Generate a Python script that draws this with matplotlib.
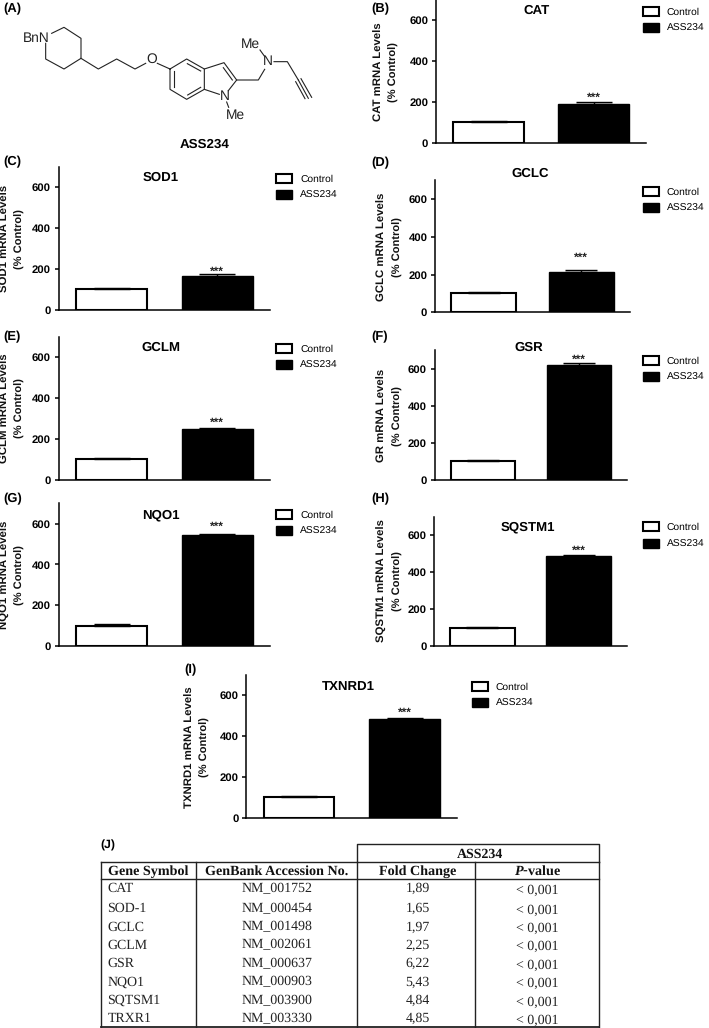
import matplotlib
matplotlib.use("Agg")
import matplotlib.pyplot as plt
from matplotlib.legend import Legend
from matplotlib.patches import Patch

plt.rcParams["font.family"] = ["Liberation Sans", "DejaVu Sans"]
plt.rcParams["text.hinting"] = "no_hinting"
plt.rcParams["mathtext.fontset"] = "custom"
plt.rcParams["mathtext.bfit"] = "Liberation Serif:italic:bold"

W, H = 709, 1028

# values
genes = ["CAT", "SOD1", "GCLC", "GCLM", "GSR", "NQO1", "SQSTM1", "TXNRD1"]
ylabels = ["CAT", "SOD1", "GCLC", "GCLM", "GR", "NQO1", "SQSTM1", "TXNRD1"]
panel_ids = ["(B)", "(C)", "(D)", "(E)", "(F)", "(G)", "(H)", "(I)"]
control_vals = [100, 100, 100, 100, 100, 100, 100, 100]
ass234_vals = [190, 165, 215, 250, 622, 545, 485, 485]
control_err = [6, 6, 6, 6, 6, 6, 5, 4]
ass234_err = [8, 8, 7, 5, 7, 6, 6, 6]
star_vals = [228, 197, 299, 290, 660, 592, 525, 525]
yticks = [0, 200, 400, 600]

# table (J)
table_header = ["Gene Symbol", "GenBank Accession No.", "Fold Change", "$\\mathbfit{P}$-value"]
table_genes = ["CAT", "SOD-1", "GCLC", "GCLM", "GSR", "NQO1", "SQTSM1", "TRXR1"]
table_acc = ["NM_001752", "NM_000454", "NM_001498", "NM_002061",
             "NM_000637", "NM_000903", "NM_003900", "NM_003330"]
table_fold = ["1,89", "1,65", "1,97", "2,25", "6,22", "5,43", "4,84", "4,85"]
table_p = ["< 0,001"] * 8

# layout of each panel in pixels: spine x, right end, y of 0, y of 600
frames = [(436, 646, 142.7, 20.0), (58.7, 270, 309.7, 187.3),
          (435, 630, 312.3, 199.3), (58.7, 270, 479.7, 357.3),
          (434.7, 626.7, 479.7, 368.7), (58.7, 270, 646, 523.7),
          (434.3, 626.7, 646, 535), (246.3, 457.3, 817.7, 695.3)]
label_pos = [(379, 394, 71.7), (5, 20, 238.8), (382, 397.7, 246.7), (5, 20, 408),
             (382, 397.7, 415.8), (5, 20, 574.7), (382, 397.7, 581), (190, 205.3, 746.7)]
title_pos = [(537, 11), (161, 178), (530, 174), (161, 348),
             (529, 348), (161, 515), (528, 527), (348, 687)]
legend_pos = [(642.7, 6.7), (276, 174), (642.7, 186.7), (276, 344),
              (642.7, 356), (276, 510), (642.7, 522.3), (471.7, 682)]
id_pos = [(371, 9), (3, 162), (371, 163), (3, 337), (371, 337), (3, 499), (371, 499), (184, 670)]

fig = plt.figure(figsize=(W / 100, H / 100), dpi=100)

# overlay in pixel coordinates for the labels, the structure and the table
over = fig.add_axes([0, 0, 1, 1])
over.set_xlim(0, W)
over.set_ylim(H, 0)
over.axis("off")

for i, gene in enumerate(genes):
    left, right, y0, y600 = frames[i]
    ytop = y0 - (y0 - y600) * 7 / 6
    ax = fig.add_axes([left / W, 1 - y0 / H, (right - left) / W, (y0 - ytop) / H])
    ax.patch.set_alpha(0)
    pitch = (right - left) / 2
    cap = pitch * 0.67 * 0.25 * 0.72

    ax.bar([1], [control_vals[i]], width=0.67, color="white", edgecolor="black", linewidth=1.5)
    ax.bar([2], [ass234_vals[i]], width=0.67, color="black", edgecolor="black", linewidth=1.0)
    # only the upper half of the error bars shows
    ax.errorbar([1, 2], [control_vals[i], ass234_vals[i]],
                yerr=[[0, 0], [control_err[i], ass234_err[i]]],
                fmt="none", ecolor="black", elinewidth=1.0, capsize=cap, capthick=1.0)
    ax.annotate("***", (2, star_vals[i]), xytext=(0, -3.5), textcoords="offset points",
                ha="center", va="baseline", fontsize=8.6, fontweight="bold", color="#222222")

    ax.set_xlim(0.5, 2.5)
    ax.set_ylim(0, 700)
    ax.set_xticks([])
    ax.set_yticks(yticks)
    ax.tick_params(axis="y", length=3, width=1.1, pad=2.5)
    for t in ax.get_yticklabels():
        t.set_fontsize(8.2)
        t.set_fontweight("bold")
    ax.spines["top"].set_visible(False)
    ax.spines["right"].set_visible(False)
    ax.spines["left"].set_linewidth(1.1)
    ax.spines["bottom"].set_linewidth(1.1)

    x1, x2, ymid = label_pos[i]
    over.text(x1, ymid, ylabels[i] + " mRNA Levels", rotation=90, ha="center", va="center",
              fontsize=8.2, fontweight="bold", color="#111111")
    over.text(x2, ymid, "(% Control)", rotation=90, ha="center", va="center",
              fontsize=8.0, fontweight="bold", color="#111111")
    over.text(title_pos[i][0], title_pos[i][1], gene, ha="center", va="center",
              fontsize=9.5, fontweight="bold")
    over.text(id_pos[i][0], id_pos[i][1], panel_ids[i], ha="left", va="center",
              fontsize=9.4, fontweight="bold")

    handles = [Patch(facecolor="white", edgecolor="black", linewidth=1.5),
               Patch(facecolor="black", edgecolor="black", linewidth=1.0)]
    leg = Legend(over, handles, ["Control", "ASS234"], loc="upper left",
                 bbox_to_anchor=legend_pos[i], bbox_transform=over.transData,
                 frameon=False, borderpad=0, borderaxespad=0, fontsize=7.4, handlelength=1.6,
                 handleheight=0.95, handletextpad=0.75, labelspacing=0.62)
    over.add_artist(leg)

# panel A, structure of ASS234
ring_pip = [(155, 100), (192, 82), (243, 115), (243, 175), (192, 207), (137, 177), (137, 130)]
chain = [(243, 175), (295, 207), (350, 177), (405, 207), (437, 190)]
o_link = [(472, 190), (510, 207)]
benzene = [(510, 207), (560, 177), (613, 207), (613, 268), (560, 298), (510, 268), (510, 207)]
inner_bonds = [[(562, 191), (602, 213)], [(521, 214), (521, 262)], [(563, 285), (602, 262)],
               [(670, 203), (697, 240)]]
five_ring = [(613, 207), (672, 188), (710, 240), (685, 272)]
five_ring2 = [(613, 268), (658, 283)]
n_me = [(680, 306), (686, 322)]
side = [(710, 240), (775, 240), (794, 208)]
me_n = [(780, 150), (793, 168)]
propargyl = [(822, 185), (862, 185), (895, 240)]
triple = [[(895, 240), (925, 295)], [(887, 245), (915, 296)], [(903, 236), (935, 292)]]

bonds = [ring_pip, chain, o_link, benzene, five_ring, five_ring2, n_me, side, me_n, propargyl]
bonds = bonds + inner_bonds + triple
for b in bonds:
    over.plot([p[0] / 3 for p in b], [p[1] / 3 for p in b], color="#222222", lw=0.8)

atoms = [("BnN", 36.3, 38.3), ("O", 151.7, 59), ("N", 225, 96), ("Me", 235, 115.7),
         ("N", 267.7, 61), ("Me", 250.7, 44)]
for s, x, y in atoms:
    over.text(x, y, s, ha="center", va="center", fontsize=9.9, color="#222222")
over.text(3, 9, "(A)", ha="left", va="center", fontsize=9.4, fontweight="bold")
over.text(204.5, 144.5, "ASS234", ha="center", va="center", fontsize=9.6, fontweight="bold")

# panel J, table
serif = ["Liberation Serif", "DejaVu Serif"]
tl, tr = 101, 599.3
cols = [195.7, 357.3, 475.3]
y_top, y_sub, y_head, y_bot = 844.3, 862, 879.3, 1027.3
row_y = [887.7, 907.3, 926, 944, 962.3, 981, 999.3, 1017.3]
centers = [276.7, 417.7, 537.3]

over.text(100.7, 845.7, "(J)", ha="left", va="center", fontsize=8.8, fontweight="bold")
over.plot([cols[1], cols[1], tr, tr], [y_sub, y_top, y_top, y_sub], color="#222222", lw=1.0)
over.plot([tl, tr], [y_sub, y_sub], color="#222222", lw=1.0)
over.plot([tl, tr], [y_head, y_head], color="#222222", lw=1.0)
over.plot([tl, tr], [y_bot, y_bot], color="#222222", lw=1.3)
for x in [tl, cols[0], cols[1], cols[2], tr]:
    over.plot([x, x], [y_sub, y_bot], color="#222222", lw=1.0)

over.text(480, 857.4, "ASS234", ha="center", va="baseline", family=serif,
          fontsize=10, fontweight="bold", color="#111111")
head_x = [148, centers[0], centers[1], centers[2]]
for x, s in zip(head_x, table_header):
    over.text(x, 875, s, ha="center", va="baseline", family=serif,
              fontsize=10.2, fontweight="bold", color="#111111")

for i in range(len(table_genes)):
    base = row_y[i] + 4.6
    over.text(107.3, base, table_genes[i], ha="left", va="baseline", family=serif,
              fontsize=10, color="#222222")
    over.text(centers[0], base, table_acc[i], ha="center", va="baseline", family=serif,
              fontsize=10, color="#222222")
    over.text(centers[1], base, table_fold[i], ha="center", va="baseline", family=serif,
              fontsize=10, color="#222222")
    over.text(centers[2], base + 1.5, table_p[i], ha="center", va="baseline", family=serif,
              fontsize=10, color="#222222")

fig.savefig("out.png", dpi=100)
